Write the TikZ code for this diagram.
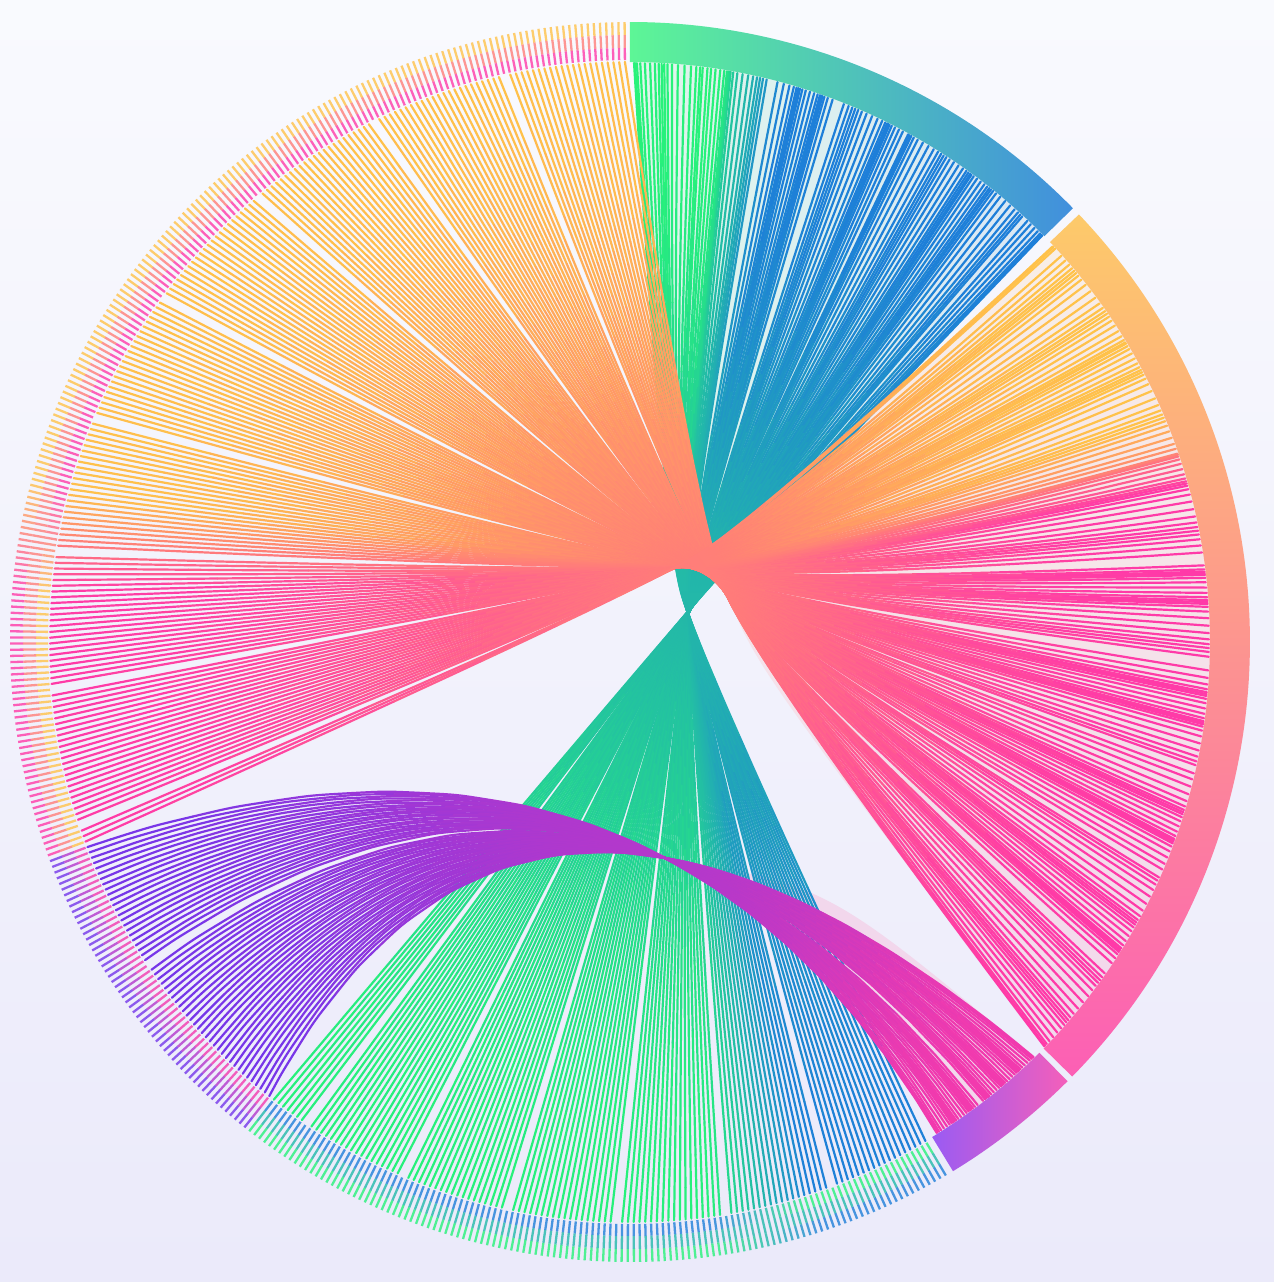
\documentclass[tikz,border=0pt]{standalone}

\definecolor{bgtop}{HTML}{F9FAFE}
\definecolor{bgbot}{HTML}{EBEAFA}
\definecolor{corange}{HTML}{FFC24A}
\definecolor{cpink}{HTML}{FF3AA8}
\definecolor{cgreen}{HTML}{27F27A}
\definecolor{cblue}{HTML}{1E7FD9}
\definecolor{cpurple}{HTML}{7436EA}
\definecolor{cmagenta}{HTML}{F23AAE}
\definecolor{ringgreen}{HTML}{5DF696}
\definecolor{ringblue}{HTML}{418FDD}
\definecolor{ringorange}{HTML}{FDCA6A}
\definecolor{ringsalmon}{HTML}{FB9A8C}
\definecolor{ringpink}{HTML}{FC5FB5}
\definecolor{ringpurple}{HTML}{9A5BF3}
\definecolor{ringrose}{HTML}{F45FBA}
\definecolor{tintgreen}{HTML}{DEF6EC}
\definecolor{tintblue}{HTML}{DAE7F5}
\definecolor{tintpeach}{HTML}{F8EEE7}
\definecolor{tintrose}{HTML}{F2D7EC}

\tikzset{
  chordline/.style={line width=1.1pt, line cap=round},
  tickline/.style={line width=1.15pt, draw opacity=0.8},
}

% end points, pinch and controls of a chord bent at (#3,#4), bend length #5
\newcommand\kinkctl[5]{%
  \pgfmathsetmacro\ax{580*cos(#1)}\pgfmathsetmacro\ay{580*sin(#1)}%
  \pgfmathsetmacro\bx{579*cos(#2)}\pgfmathsetmacro\by{579*sin(#2)}%
  \pgfmathsetmacro\px{#3}\pgfmathsetmacro\py{#4}%
  \pgfmathsetmacro\dd{100*veclen((\bx-\ax)/100,(\by-\ay)/100)}%
  \pgfmathsetmacro\ux{(\bx-\ax)/\dd}\pgfmathsetmacro\uy{(\by-\ay)/\dd}%
  \pgfmathsetmacro\lx{\px-#5*\ux}\pgfmathsetmacro\ly{\py-#5*\uy}%
  \pgfmathsetmacro\rx{\px+#5*\ux}\pgfmathsetmacro\ry{\py+#5*\uy}%
}
% same for one parabola that passes (#3,#4) at parameter #5
\newcommand\arcctl[5]{%
  \pgfmathsetmacro\ax{580*cos(#1)}\pgfmathsetmacro\ay{580*sin(#1)}%
  \pgfmathsetmacro\bx{579*cos(#2)}\pgfmathsetmacro\by{579*sin(#2)}%
  \pgfmathsetmacro\px{#3}\pgfmathsetmacro\py{#4}%
  \pgfmathsetmacro\qx{(\px-(1-#5)^2*\ax-(#5)^2*\bx)/(2*#5*(1-#5))}%
  \pgfmathsetmacro\qy{(\py-(1-#5)^2*\ay-(#5)^2*\by)/(2*#5*(1-#5))}%
  \pgfmathsetmacro\lx{(1-#5)*\ax+#5*\qx}\pgfmathsetmacro\ly{(1-#5)*\ay+#5*\qy}%
  \pgfmathsetmacro\rx{(1-#5)*\qx+#5*\bx}\pgfmathsetmacro\ry{(1-#5)*\qy+#5*\by}%
}
% piece [#7,#8] of the parabola (#1,#2) (#3,#4) (#5,#6)
\newcommand\qpiece[8]{%
  \pgfmathsetmacro\sx{(1-#7)^2*#1+2*#7*(1-#7)*#3+(#7)^2*#5}%
  \pgfmathsetmacro\sy{(1-#7)^2*#2+2*#7*(1-#7)*#4+(#7)^2*#6}%
  \pgfmathsetmacro\mx{(1-#7)*(1-#8)*#1+((1-#7)*#8+#7*(1-#8))*#3+#7*#8*#5}%
  \pgfmathsetmacro\my{(1-#7)*(1-#8)*#2+((1-#7)*#8+#7*(1-#8))*#4+#7*#8*#6}%
  \pgfmathsetmacro\ex{(1-#8)^2*#1+2*#8*(1-#8)*#3+(#8)^2*#5}%
  \pgfmathsetmacro\ey{(1-#8)^2*#2+2*#8*(1-#8)*#4+(#8)^2*#6}%
}
% chord in pieces, colour #1 -> #2, piece phase #3
\newcommand\chordpieces[3]{%
  \foreach \seg in {0,...,8}{%
    \pgfmathsetmacro\ta{max(0,(\seg-1+#3)/8)}\pgfmathsetmacro\tb{min(1,(\seg+#3)/8)}%
    \pgfmathsetmacro\sm{(\ta+\tb)/2}\pgfmathsetmacro\fr{2*\sm-\sm^2}%
    \qpiece{\ax}{\ay}{\lx}{\ly}{\px}{\py}{\ta}{\tb}%
    \pgfmathtruncatemacro\pc{100-50*\fr*sqrt(\fr)}%
    \draw[chordline, color=#1!\pc!#2] (\sx,\sy) .. controls (\mx,\my) .. (\ex,\ey);%
    \qpiece{\px}{\py}{\rx}{\ry}{\bx}{\by}{\ta}{\tb}%
    \pgfmathtruncatemacro\pc{50*(1-\sm^2)^2}%
    \draw[chordline, color=#1!\pc!#2] (\sx,\sy) .. controls (\mx,\my) .. (\ex,\ey);%
  }%
}

\newcommand\tickmark[3]{%
  \draw[tickline,#2] (#1:620) -- (#1:607);%
  \draw[tickline,#2!50!#3] (#1:607) -- (#1:594);%
  \draw[tickline,#3] (#1:594) -- (#1:582);%
}

\begin{document}
\begin{tikzpicture}[x=0.5pt, y=0.5pt]
\useasboundingbox (-630,-640) rectangle (644,642);
\shade[top color=bgtop, bottom color=bgbot] (-630,-640) rectangle (644,642);

% pale fans behind the groups
\kinkctl{232.1}{44.6}{75}{50}{70}
\coordinate (pa) at (\px,\py); \coordinate (ra) at (\rx,\ry); \coordinate (ba) at (\bx,\by);
\kinkctl{300.63}{89.6}{51}{50}{70}
\path[left color=tintgreen, right color=tintblue] (pa) .. controls (ra) .. (ba) -- (44.6:581) arc[start angle=44.6, end angle=89.6, radius=581] -- (\bx,\by) .. controls (\rx,\ry) .. (\px,\py) -- cycle;
\kinkctl{90.5}{-44.3}{97}{47}{80}
\coordinate (pa) at (\px,\py); \coordinate (ra) at (\rx,\ry); \coordinate (ba) at (\bx,\by);
\kinkctl{200.13}{43.1}{67}{87}{80}
\path[top color=tintpeach, bottom color=tintrose] (pa) .. controls (ra) .. (ba) -- (-44.3:581) arc[start angle=-44.3, end angle=43.1, radius=581] -- (\bx,\by) .. controls (\rx,\ry) .. (\px,\py) -- cycle;
\arcctl{200.7}{-58.0}{35}{-216}{0.6}
\coordinate (pa) at (\px,\py); \coordinate (ra) at (\rx,\ry); \coordinate (ba) at (\bx,\by);
\arcctl{231.5}{-45.8}{35}{-216}{0.6}
\path[fill=tintrose] (pa) .. controls (ra) .. (ba) -- (-58.0:581) arc[start angle=-58.0, end angle=-45.8, radius=581] -- (\bx,\by) .. controls (\rx,\ry) .. (\px,\py) -- cycle;

% green fan: bottom ticks -> top arc
\foreach \j in {248,...,368}{
  \pgfmathsetmacro\thl{90.5+0.571*\j}
  \pgfmathsetmacro\uu{(\j-248)/120}
  \pgfmathsetmacro\thr{44.6+45*(\uu-0.5*sin(5040*\uu)/87.96-0.3*sin(1800*\uu)/31.42)}
  \pgfmathsetmacro\phase{\j*0.618-floor(\j*0.618)}
  \pgfmathtruncatemacro\wmix{min(100,max(0,(\thl-278)*10))}
  \colorlet{cl}{cblue!\wmix!cgreen}
  \colorlet{cr}{cgreen!\wmix!cblue}
  \tickmark{\thl}{cl}{cr}
  \pgfmathtruncatemacro\gapflag{mod(\j*5,19)==2}
  \ifnum\gapflag=0 \kinkctl{\thl}{\thr}{63-12*(2*\uu-1)}{50}{70}\chordpieces{cl}{cr}{\phase}\fi
}

% purple fan: lower left ticks -> small arc
\foreach \j in {193,...,247}{
  \pgfmathsetmacro\thl{90.5+0.571*\j}
  \pgfmathsetmacro\uu{(\j-193)/54}
  \pgfmathsetmacro\thr{-58.0+12.2*(\uu-0.6*sin(2160*\uu)/37.7)}
  \pgfmathsetmacro\phase{\j*0.618-floor(\j*0.618)}
  \tickmark{\thl}{cpurple}{cmagenta}
  \ifnum\j=216 \else \arcctl{\thl}{\thr}{35}{-216}{0.6}\chordpieces{cpurple}{cmagenta}{\phase}\fi
}

% pink fan: upper left ticks -> right arc
\foreach \j in {0,...,192}{
  \pgfmathsetmacro\thl{90.5+0.571*\j}
  \pgfmathsetmacro\uu{\j/192}
  \pgfmathsetmacro\thr{-44.3+87.4*(\uu-0.5*sin(7920*\uu)/138.23-0.3*sin(2520*\uu)/43.98)}
  \pgfmathsetmacro\phase{\j*0.618-floor(\j*0.618)}
  \pgfmathtruncatemacro\wmix{min(100,max(0,(\thl-165)*10))}
  \colorlet{cl}{cpink!\wmix!corange}
  \colorlet{cr}{corange!\wmix!cpink}
  \tickmark{\thl}{cl}{cr}
  \pgfmathtruncatemacro\gapflag{mod(\j*7,24)==3}
  \ifnum\gapflag=0 \kinkctl{\thl}{\thr}{82-15*(2*\uu-1)}{67+20*(2*\uu-1)}{80}\chordpieces{cl}{cr}{\phase}\fi
}

% group arcs
\shade[left color=ringgreen, right color=ringblue] (90:580) arc[start angle=90, end angle=44.4, radius=580] -- (44.4:620) arc[start angle=44.4, end angle=90, radius=620] -- cycle;
\shade[top color=ringorange, middle color=ringsalmon, bottom color=ringpink] (43.6:580) arc[start angle=43.6, end angle=-44.5, radius=580] -- (-44.5:620) arc[start angle=-44.5, end angle=43.6, radius=620] -- cycle;
\shade[left color=ringpurple, right color=ringrose] (-45.1:580) arc[start angle=-45.1, end angle=-58.6, radius=580] -- (-58.6:620) arc[start angle=-58.6, end angle=-45.1, radius=620] -- cycle;
\end{tikzpicture}
\end{document}
